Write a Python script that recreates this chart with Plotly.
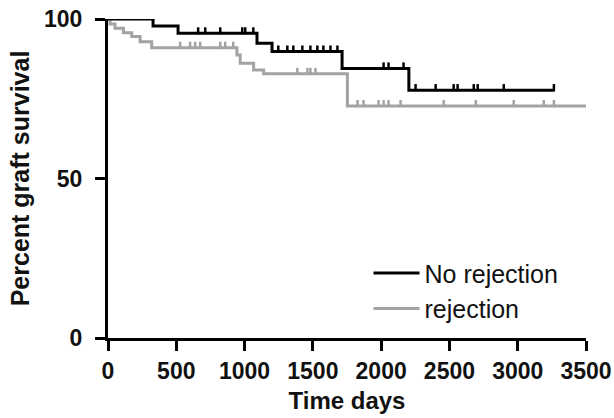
import plotly.graph_objects as go

# Kaplan-Meier step curves: event times (days) and survival (%) after each step
no_rej_t = [0, 330, 513, 1091, 1201, 1714, 2203, 3270]
no_rej_s = [100, 97.8, 95.5, 92.4, 89.8, 84.5, 77.7, 77.7]
rej_t = [0, 15, 51, 113, 174, 235, 320, 944, 968, 1066, 1140, 1753, 3500]
rej_s = [100, 98.4, 97.1, 95.7, 94.5, 92.9, 91.0, 88.7, 86.1, 84.0, 82.8, 72.7, 72.7]

# censored observations (days)
no_rej_cens = [39, 218, 660, 712, 822, 983, 1005, 1064, 1247, 1313, 1357, 1423,
               1482, 1533, 1577, 1629, 1680, 2018, 2054, 2164, 2252, 2399, 2531,
               2560, 2678, 2707, 2898, 3265]
rej_cens = [528, 601, 638, 675, 822, 858, 917, 1386, 1460, 1482, 1519, 1827,
            1871, 1981, 2018, 2054, 2142, 2458, 2693, 2971, 3191, 3265]

x_ticks = [0, 500, 1000, 1500, 2000, 2500, 3000, 3500]
y_ticks = [0, 50, 100]

BLACK = "#000000"
GRAY = "#a3a3a3"
TEXT = "#111111"
FONT = "Liberation Sans, Arial, sans-serif"


def surv_at(times, surv, t):
    s = surv[0]
    for ti, si in zip(times, surv):
        if ti <= t:
            s = si
    return s


# ticks for censored cases sit just above the curve
TICK_LIFT = 0.8

fig = go.Figure()
for name, t, s, cens, col in [
    ("rejection", rej_t, rej_s, rej_cens, GRAY),
    ("No rejection", no_rej_t, no_rej_s, no_rej_cens, BLACK),
]:
    fig.add_trace(go.Scatter(
        x=t, y=s, mode="lines", name=name, legendgroup=name,
        line=dict(color=col, width=3, shape="hv"), cliponaxis=False,
    ))
    fig.add_trace(go.Scatter(
        x=cens, y=[surv_at(t, s, c) + TICK_LIFT for c in cens],
        mode="markers", legendgroup=name, showlegend=False,
        marker=dict(symbol="line-ns", size=5, line=dict(color=col, width=2.5)),
        cliponaxis=False,
    ))

fig.update_layout(
    width=614, height=418,
    margin=dict(l=108, r=28, t=19, b=80),
    paper_bgcolor="white", plot_bgcolor="white",
    font=dict(family=FONT, color=TEXT),
    showlegend=True,
    legend=dict(
        x=0.545, y=0.275, xanchor="left", yanchor="top",
        traceorder="reversed",
        font=dict(family=FONT, size=25, color=TEXT),
        bgcolor="rgba(0,0,0,0)", itemwidth=46,
    ),
    xaxis=dict(
        range=[0, 3500], tickvals=x_ticks, ticktext=[str(v) for v in x_ticks],
        showgrid=False, zeroline=False, automargin=False,
        showline=True, linecolor=BLACK, linewidth=3,
        ticks="outside", ticklen=10, tickwidth=3, tickcolor=BLACK,
        tickfont=dict(family=FONT, size=23, weight="bold", color=TEXT),
        title=dict(text="Time days", standoff=10,
                   font=dict(family=FONT, size=24, weight="bold", color=TEXT)),
    ),
    yaxis=dict(
        range=[0, 100], tickvals=y_ticks, ticktext=[str(v) for v in y_ticks],
        showgrid=False, zeroline=False, automargin=False,
        showline=True, linecolor=BLACK, linewidth=3,
        ticks="outside", ticklen=10, tickwidth=3, tickcolor=BLACK,
        tickfont=dict(family=FONT, size=23, weight="bold", color=TEXT),
        ticklabelstandoff=8,
        title=dict(text="Percent graft survival", standoff=8,
                   font=dict(family=FONT, size=25, weight="bold", color=TEXT)),
    ),
)

fig.write_html("out.html")
